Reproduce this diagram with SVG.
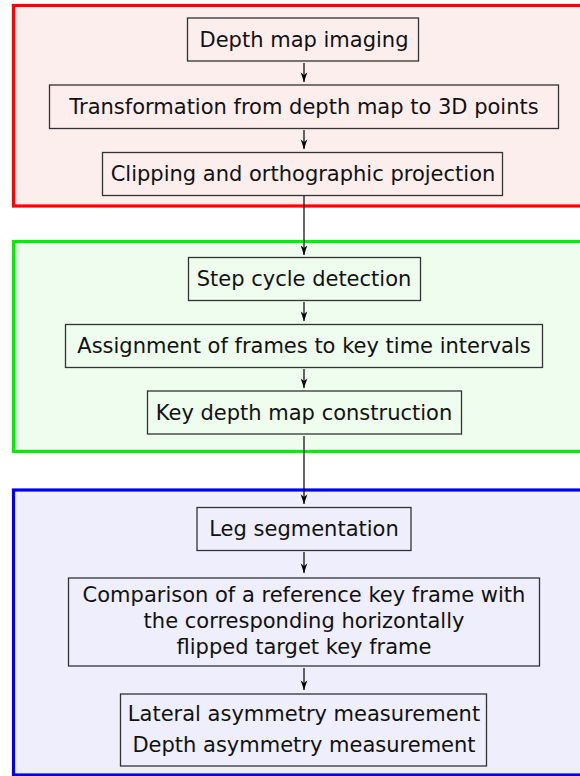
<svg xmlns="http://www.w3.org/2000/svg" width="580" height="776" viewBox="0 0 580 776">
<style>
.stage{stroke-width:3.2}
.node rect{fill:none;stroke:#333;stroke-width:1.3}
.node text{font-family:"DejaVu Sans",sans-serif;font-size:21px;fill:#111;text-anchor:middle}
.conn line{stroke:#000;stroke-width:1.2;marker-end:url(#arr)}
</style>
<defs>
<marker id="arr" markerUnits="userSpaceOnUse" markerWidth="12" markerHeight="10" viewBox="-11 -5 12 10" refX="0" refY="0" orient="auto">
<path d="M0,0 L-9.5,-3.3 L-7,0 L-9.5,3.3 Z" fill="#000"/>
</marker>
</defs>
<g id="stage-red"><rect class="stage" x="13.5" y="5.5" width="600" height="200.5" fill="#fdeeee" stroke="#ff0000"/></g>
<g id="stage-green"><rect class="stage" x="13.5" y="241.5" width="600" height="210" fill="#eefdee" stroke="#00ee00"/></g>
<g id="stage-blue"><rect class="stage" x="13.5" y="490" width="600" height="285" fill="#eeeefc" stroke="#0000ee"/></g>

<g id="n1" class="node"><rect x="187.5" y="18" width="231" height="43"/><text x="304" y="46.5">Depth map imaging</text></g>
<g id="n2" class="node"><rect x="49.5" y="85" width="509" height="43.5"/><text x="304" y="113.5">Transformation from depth map to 3D points</text></g>
<g id="n3" class="node"><rect x="102.5" y="152.5" width="400" height="43"/><text x="303" y="181">Clipping and orthographic projection</text></g>

<g id="n4" class="node"><rect x="188.5" y="257.5" width="232" height="43"/><text x="304" y="286">Step cycle detection</text></g>
<g id="n5" class="node"><rect x="65.5" y="324.5" width="477" height="43"/><text x="304" y="353">Assignment of frames to key time intervals</text></g>
<g id="n6" class="node"><rect x="147.5" y="391" width="314" height="43"/><text x="304" y="419.5">Key depth map construction</text></g>

<g id="n7" class="node"><rect x="197" y="507.5" width="214" height="43"/><text x="304" y="536">Leg segmentation</text></g>
<g id="n8" class="node"><rect x="68.5" y="578" width="471" height="88"/><text x="304" y="602">Comparison of a reference key frame with</text><text x="304" y="628">the corresponding horizontally</text><text x="304" y="654">flipped target key frame</text></g>
<g id="n9" class="node"><rect x="120.5" y="694" width="366" height="72"/><text x="304" y="720.5">Lateral asymmetry measurement</text><text x="304" y="752">Depth asymmetry measurement</text></g>

<g id="connectors" class="conn">
<line x1="304" y1="63" x2="304" y2="82"/>
<line x1="304" y1="130" x2="304" y2="149"/>
<line x1="304" y1="196" x2="304" y2="255"/>
<line x1="304" y1="302" x2="304" y2="321"/>
<line x1="304" y1="369" x2="304" y2="388"/>
<line x1="304" y1="436" x2="304" y2="504"/>
<line x1="304" y1="552" x2="304" y2="573"/>
<line x1="304" y1="668" x2="304" y2="690"/>
</g>
</svg>
